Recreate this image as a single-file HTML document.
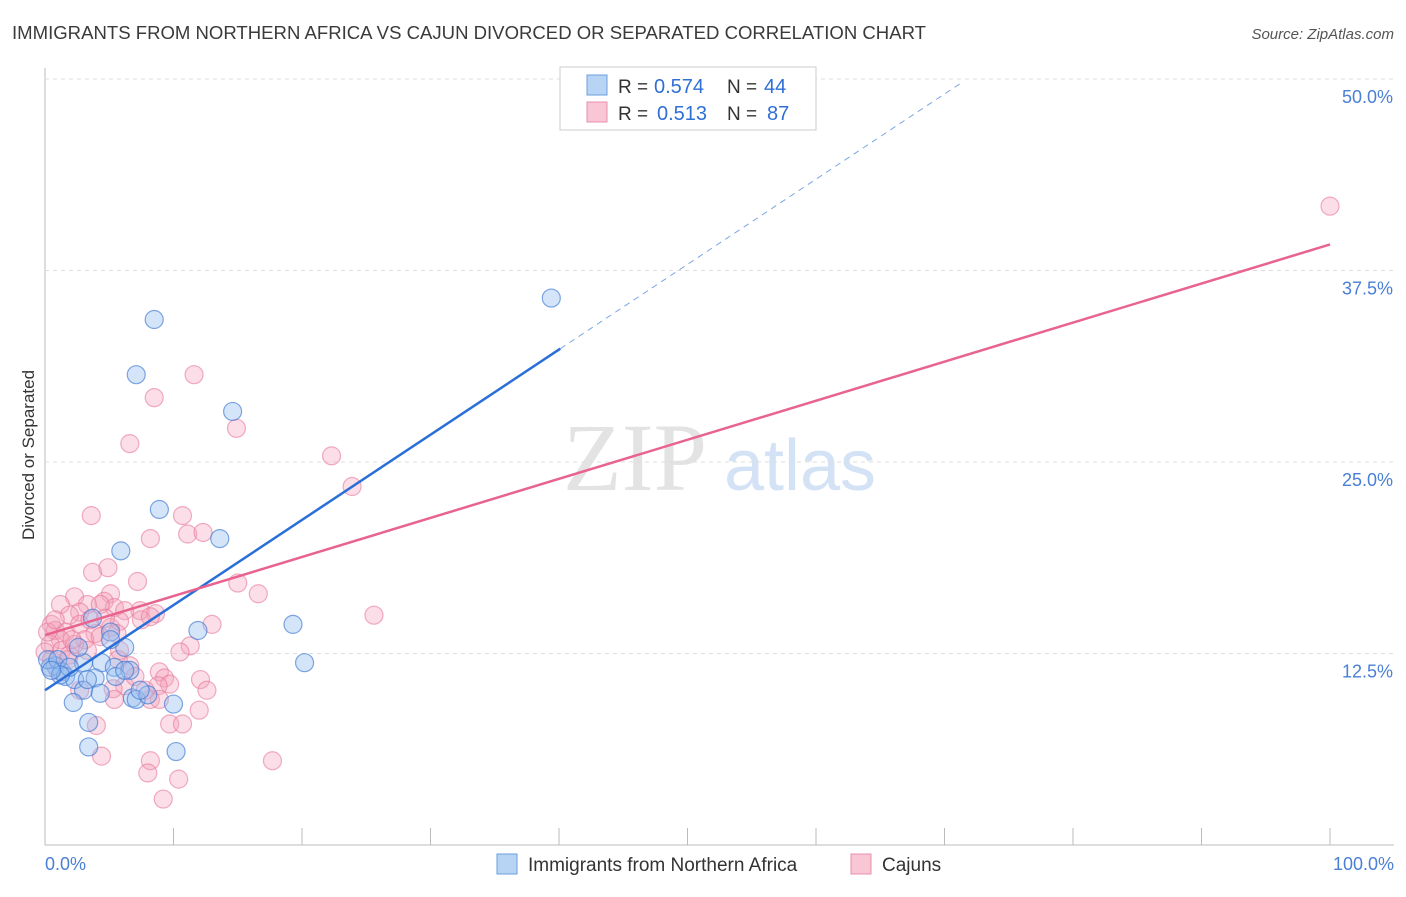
<!DOCTYPE html>
<html><head><meta charset="utf-8"><style>
body{margin:0;background:#fff;font-family:"Liberation Sans",sans-serif;}
</style></head><body>
<svg id="chart" width="1406" height="892" xmlns="http://www.w3.org/2000/svg">
<text x="12" y="39" font-size="18" fill="#3a3a3a" textLength="914" lengthAdjust="spacingAndGlyphs">IMMIGRANTS FROM NORTHERN AFRICA VS CAJUN DIVORCED OR SEPARATED CORRELATION CHART</text>
<text x="1394" y="39" font-size="15" fill="#555" font-style="italic" text-anchor="end">Source: ZipAtlas.com</text>
<text x="0" y="0" transform="translate(34,455) rotate(-90)" font-size="17" fill="#333" text-anchor="middle">Divorced or Separated</text>
<g><text x="635" y="490" font-size="96" fill="#d8d8d8" font-family="Liberation Serif,serif" text-anchor="middle" opacity="0.7">ZIP</text><text x="800" y="490" font-size="72" fill="#b8cff0" text-anchor="middle" opacity="0.6">atlas</text></g>
<g id="grid"></g><g id="marks"></g><g id="lines"></g>
<g>
<rect x="560" y="67" width="256" height="63" fill="#fff" stroke="#ccc"/>
<rect x="587" y="75" width="20" height="20" fill="#b8d4f5" stroke="#6a9ee0"/>
<rect x="587" y="102" width="20" height="20" fill="#f9c6d5" stroke="#ea8fab"/>
<text x="618" y="93" font-size="19" fill="#333">R =</text>
<text x="654" y="93" font-size="20" fill="#2f6fd6">0.574</text>
<text x="727" y="93" font-size="19" fill="#333">N =</text>
<text x="764" y="93" font-size="20" fill="#2f6fd6">44</text>
<text x="618" y="120" font-size="19" fill="#333">R =</text>
<text x="657" y="120" font-size="20" fill="#2f6fd6">0.513</text>
<text x="727" y="120" font-size="19" fill="#333">N =</text>
<text x="767" y="120" font-size="20" fill="#2f6fd6">87</text>
</g>
<g>
<rect x="497" y="854" width="20" height="20" fill="#b8d4f5" stroke="#6a9ee0"/>
<text x="528" y="871" font-size="19" fill="#333">Immigrants from Northern Africa</text>
<rect x="851" y="854" width="20" height="20" fill="#f9c6d5" stroke="#ea8fab"/>
<text x="882" y="871" font-size="19" fill="#333">Cajuns</text>
</g>
<text x="45" y="870" font-size="18" fill="#4a7fd6">0.0%</text>
<text x="1394" y="870" font-size="18" fill="#4a7fd6" text-anchor="end">100.0%</text>
</svg>
<script>
const yTicks=[12.5,25,37.5,50];
const yTickLabels=["12.5%","25.0%","37.5%","50.0%"];
const blueX=[8.5,7.1,14.6,39.4,8.9,13.6,5.9,19.3,20.2,11.9,6.2,5.1,3.7,3.0,4.4,0.8,1.3,0.4,1.6,2.3,3.9,5.4,6.6,3.0,4.3,2.2,6.8,7.1,10.0,8.0,3.4,3.4,10.2,0.2,1.0,1.9,5.1,5.5,6.2,2.6,1.2,3.3,7.4,0.5];
const blueY=[34.3,30.7,28.3,35.7,21.9,20.0,19.2,14.4,11.9,14.0,12.9,13.9,14.8,11.9,11.9,11.7,11.3,11.6,11.0,10.8,10.9,11.6,11.4,10.1,9.9,9.3,9.6,9.5,9.2,9.8,8.0,6.4,6.1,12.1,12.1,11.6,13.4,11.0,11.4,12.9,11.1,10.8,10.1,11.4];
const pinkX=[100,11.6,8.5,14.9,6.6,22.3,23.9,3.6,10.7,11.1,12.3,8.2,3.7,4.9,7.2,15.0,16.6,25.6,2.3,1.2,5.1,4.6,5.4,3.3,4.3,7.4,8.6,6.2,2.7,1.9,0.5,0.8,1.6,2.7,3.9,3.1,5.1,5.8,5.6,7.5,8.2,13.0,11.3,10.5,4.3,1.2,0.4,0,0.5,1.3,1.9,2.3,5.8,6.6,8.9,9.3,9.7,8.8,12.1,12.6,6.2,8.2,8.9,7.0,5.7,5.3,4.0,9.7,10.7,12.0,4.4,8.2,8.0,10.4,9.2,17.7,1.0,0.2,1.8,3.3,3.5,4.7,7.8,5.4,0.8,2.1,2.7];
const pinkY=[41.7,30.7,29.2,27.2,26.2,25.4,23.4,21.5,21.5,20.3,20.4,20.0,17.8,18.1,17.2,17.1,16.4,15.0,16.2,15.7,16.4,15.9,15.5,15.7,15.7,15.3,15.1,15.3,15.2,15.0,14.4,14.0,13.9,14.4,13.8,13.4,14.2,14.6,13.8,14.7,14.9,14.4,13.0,12.6,13.6,13.4,13.1,12.6,12.1,12.7,12.4,13.1,12.7,11.7,11.3,10.9,10.5,10.4,10.8,10.1,10.4,9.5,9.5,11.0,12.1,10.2,7.8,7.9,7.9,8.8,5.8,5.5,4.7,4.3,3.0,5.5,11.4,13.9,12.1,12.7,14.7,14.8,10.1,9.5,14.7,13.4,10.1];
const blueTrend=[10.1,0.556]; const pinkTrend=[13.7,0.255];
const X0=45,X1=1330,Y0=845,PXY=15.32;
const sx=v=>X0+(v/100)*(X1-X0), sy=v=>Y0-v*PXY;
const NS="http://www.w3.org/2000/svg";
function mk(tag,attrs,parent){const e=document.createElementNS(NS,tag);for(const k in attrs)e.setAttribute(k,attrs[k]);parent.appendChild(e);return e;}
const grid=document.getElementById('grid');
let ax=mk('line',{x1:45,y1:68,x2:45,y2:845,stroke:'#bbb'},grid);


let bx=mk('line',{x1:45,y1:845,x2:1394,y2:845,stroke:'#bbb'},grid);


for(let i=1;i<=10;i++){const t=mk('line',{x1:45+i*128.5,y1:828,x2:45+i*128.5,y2:845,stroke:'#bbb'},grid);

}
yTicks.forEach((v,i)=>{const g=mk('line',{x1:45,y1:sy(v),x2:1394,y2:sy(v),stroke:'#ddd','stroke-dasharray':'4 4'},grid);


const t=mk('text',{x:1393,y:sy(v)+24,'font-size':18,fill:'#4a7fd6','text-anchor':'end'},grid);t.textContent=yTickLabels[i];

});
const marks=document.getElementById('marks');
pinkX.forEach((x,i)=>{const c=mk('circle',{cx:sx(x),cy:sy(pinkY[i]),r:9,fill:'rgba(244,160,186,0.35)',stroke:'rgba(232,120,155,0.6)','stroke-width':1.2},marks);

});
blueX.forEach((x,i)=>{const c=mk('circle',{cx:sx(x),cy:sy(blueY[i]),r:9,fill:'rgba(150,190,240,0.4)',stroke:'rgba(60,120,210,0.65)','stroke-width':1.2},marks);

});
const lines=document.getElementById('lines');
const f=(t,x)=>t[0]+t[1]*x;
let l1=mk('line',{x1:sx(0),y1:sy(f(blueTrend,0)),x2:sx(40.1),y2:sy(f(blueTrend,40.1)),stroke:'#2a6fd8','stroke-width':2.5},lines);


let l2=mk('line',{x1:sx(40.1),y1:sy(f(blueTrend,40.1)),x2:sx(71.2),y2:sy(f(blueTrend,71.2)),stroke:'#7aa6e6','stroke-width':1,'stroke-dasharray':'6 5'},lines);


let l3=mk('line',{x1:sx(0),y1:sy(f(pinkTrend,0)),x2:sx(100),y2:sy(f(pinkTrend,100)),stroke:'#e8648e','stroke-width':2.5},lines);


</script>
</body></html>
